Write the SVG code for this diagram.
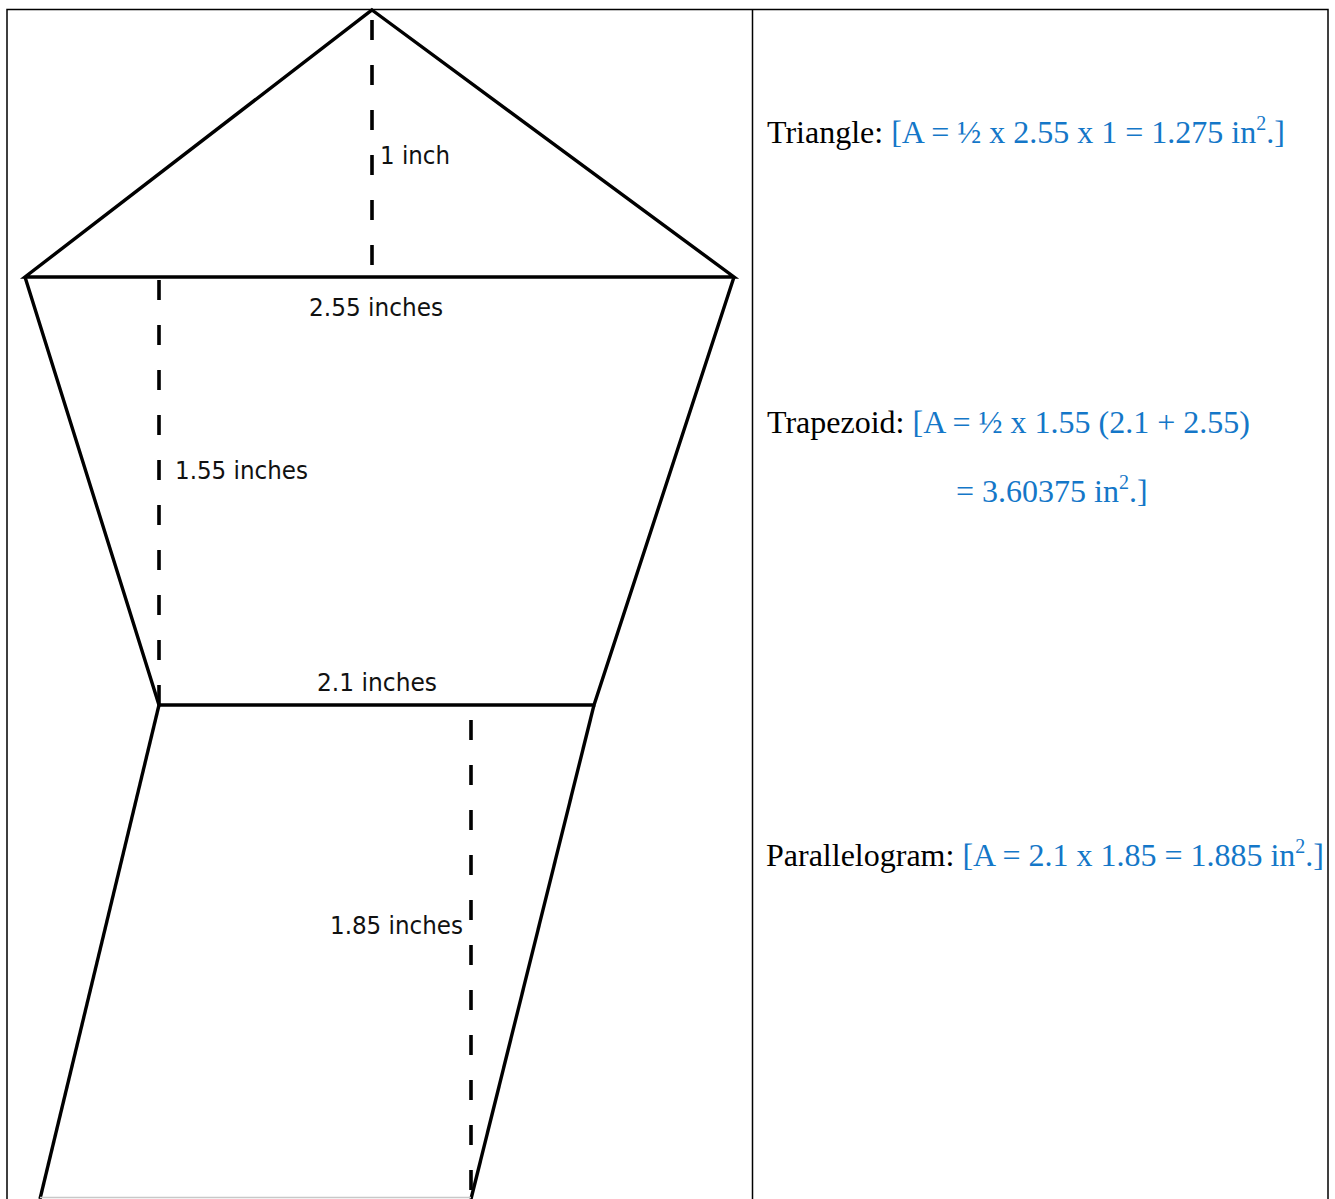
<svg xmlns="http://www.w3.org/2000/svg" width="1335" height="1199" viewBox="0 0 1335 1199">
<style>
.edge{stroke:#000;stroke-width:3.4;fill:none;stroke-linejoin:miter}
.dash{stroke:#000;stroke-width:3.6;fill:none;stroke-dasharray:20 25}
.lbl{font-family:"DejaVu Sans","Liberation Sans",sans-serif;font-size:25px;fill:#111}
.eq{font-family:"Liberation Serif","Times New Roman",serif;font-size:32px;fill:#000}
.blue{fill:#1477c8}
.sup{font-size:20px}
</style>
<rect width="1335" height="1199" fill="#fff"/>
<g id="table">
<rect x="7" y="9.5" width="1321" height="1200" fill="none" stroke="#000" stroke-width="1.5"/>
<line x1="752.5" y1="9.5" x2="752.5" y2="1199" stroke="#000" stroke-width="1.5"/>
</g>
<g id="connectors">
<line class="dash" x1="372" y1="20" x2="372" y2="277"/>
<line class="dash" x1="159" y1="280" x2="159" y2="705"/>
<line class="dash" x1="471" y1="720" x2="471" y2="1199"/>
</g>
<g id="triangle">
<polygon class="edge" points="372,10 734,277 25,277"/>
</g>
<g id="trapezoid">
<polyline class="edge" points="25,277 159,705 594,705 734,277"/>
</g>
<g id="parallelogram">
<polyline class="edge" points="159,705 40,1199"/>
<polyline class="edge" points="594,705 471,1199"/>
<line x1="40" y1="1197.5" x2="471" y2="1197.5" stroke="#c8c8c8" stroke-width="1.5"/>
</g>
<g id="labels">
<text class="lbl" x="380" y="164" textLength="70" lengthAdjust="spacingAndGlyphs">1 inch</text>
<text class="lbl" x="309" y="316" textLength="134" lengthAdjust="spacingAndGlyphs">2.55 inches</text>
<text class="lbl" x="175" y="479" textLength="133" lengthAdjust="spacingAndGlyphs">1.55 inches</text>
<text class="lbl" x="317" y="691" textLength="120" lengthAdjust="spacingAndGlyphs">2.1 inches</text>
<text class="lbl" x="330" y="934" textLength="133" lengthAdjust="spacingAndGlyphs">1.85 inches</text>
</g>
<g id="formula-triangle">
<text class="eq" x="767" y="143">Triangle: <tspan class="blue">[A = ½ x 2.55 x 1 = 1.275 in<tspan class="sup" dy="-13">2</tspan><tspan dy="13">.]</tspan></tspan></text>
</g>
<g id="formula-trapezoid">
<text class="eq" x="767" y="433">Trapezoid: <tspan class="blue">[A = ½ x 1.55 (2.1 + 2.55)</tspan></text>
<text class="eq blue" x="956" y="502">= 3.60375 in<tspan class="sup" dy="-13">2</tspan><tspan dy="13">.]</tspan></text>
</g>
<g id="formula-parallelogram">
<text class="eq" x="766" y="866">Parallelogram: <tspan class="blue">[A = 2.1 x 1.85 = 1.885 in<tspan class="sup" dy="-13">2</tspan><tspan dy="13">.]</tspan></tspan></text>
</g>
</svg>
